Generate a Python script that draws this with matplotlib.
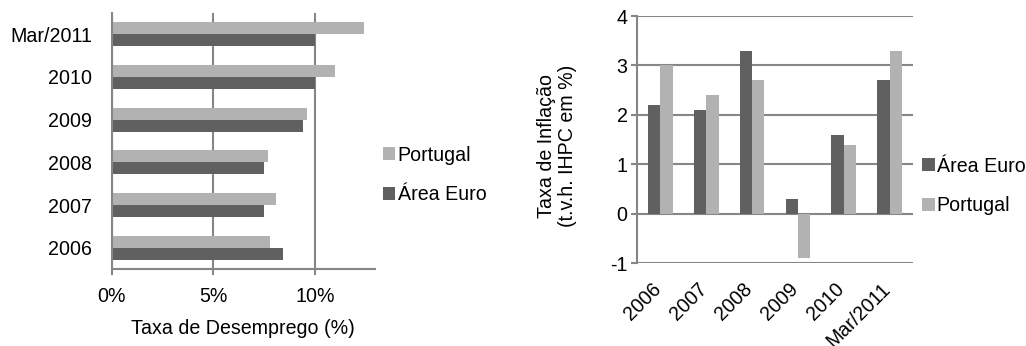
import numpy as np
from matplotlib import pyplot as plt

plt.rcParams["font.family"] = ["Liberation Sans", "DejaVu Sans"]
plt.rcParams["axes.unicode_minus"] = False

categories = ["2006", "2007", "2008", "2009", "2010", "Mar/2011"]

# Taxa de desemprego (%)
desemprego_portugal = [7.8, 8.1, 7.7, 9.6, 11.0, 12.4]
desemprego_euro = [8.4, 7.5, 7.5, 9.4, 10.0, 10.0]

# Taxa de inflação (t.v.h. IHPC em %)
inflacao_euro = [2.2, 2.1, 3.3, 0.3, 1.6, 2.7]
inflacao_portugal = [3.0, 2.4, 2.7, -0.9, 1.4, 3.3]

COR_PT = "#b2b2b2"
COR_EURO = "#606060"
COR_EIXO = "#868686"
FS = 14.1


def grafico_desemprego(fig):
    ax = fig.add_axes([0.1089, 0.2225, 0.2566, 0.740])
    y = np.arange(len(categories))
    h = 0.28
    b_pt = ax.barh(y + h / 2, desemprego_portugal, height=h, color=COR_PT, label="Portugal")
    b_eu = ax.barh(y - h / 2, desemprego_euro, height=h, color=COR_EURO, label="Área Euro")
    ax.set_ylim(-0.5, len(categories) - 0.5)
    ax.set_xlim(0, 12.95)
    ax.set_yticks(y)
    ax.set_yticklabels(categories)
    ax.set_xticks([0, 5, 10])
    ax.set_xticklabels(["0%", "5%", "10%"])
    ax.set_xlabel("Taxa de Desemprego (%)", fontsize=FS, labelpad=9)
    ax.xaxis.grid(True, color=COR_EIXO, linewidth=1.5)
    ax.set_axisbelow(True)
    for s in ["top", "right"]:
        ax.spines[s].set_visible(False)
    for s in ["left", "bottom"]:
        ax.spines[s].set_color(COR_EIXO)
        ax.spines[s].set_linewidth(1.5)
    ax.tick_params(axis="y", length=0, pad=14, labelsize=FS)
    ax.tick_params(axis="x", length=4, width=1.5, color=COR_EIXO, pad=9, labelsize=FS)
    fig.legend([b_pt, b_eu], ["Portugal", "Área Euro"], loc="center left",
               bbox_to_anchor=(0.373, 0.494), frameon=False, fontsize=FS,
               handlelength=0.65, handleheight=0.65, handletextpad=0.12,
               labelspacing=1.05, borderaxespad=0, borderpad=0)


def grafico_inflacao(fig):
    ax = fig.add_axes([0.6212, 0.239, 0.2684, 0.7147])
    x = np.arange(len(categories))
    w = 0.27
    b_eu = ax.bar(x - w / 2, inflacao_euro, width=w, color=COR_EURO, label="Área Euro")
    b_pt = ax.bar(x + w / 2, inflacao_portugal, width=w, color=COR_PT, label="Portugal")
    ax.set_xlim(-0.5, len(categories) - 0.5)
    ax.set_ylim(-1, 4)
    ax.set_yticks(range(-1, 5))
    ax.yaxis.grid(True, color=COR_EIXO, linewidth=1.5)
    ax.set_axisbelow(True)
    for s in ["top", "right", "bottom"]:
        ax.spines[s].set_visible(False)
    ax.spines["left"].set_color(COR_EIXO)
    ax.spines["left"].set_linewidth(1.5)
    ax.tick_params(axis="y", length=4, width=1.5, color=COR_EIXO, pad=3, labelsize=FS)
    # ticks invisíveis, ligeiramente à esquerda do centro para alinhar o texto inclinado
    ax.set_xticks(x - 0.2)
    ax.set_xticklabels(categories, rotation=45, ha="right", va="top",
                       rotation_mode="anchor", fontsize=FS)
    ax.tick_params(axis="x", length=0, pad=11.5)
    ax.set_ylabel("Taxa de Inflação\n(t.v.h. IHPC em %)", fontsize=FS, linespacing=1.15)
    ax.yaxis.set_label_coords(-0.218, 0.474)
    fig.legend([b_eu, b_pt], ["Área Euro", "Portugal"], loc="center left",
               bbox_to_anchor=(0.8985, 0.4624), frameon=False, fontsize=FS,
               handlelength=0.65, handleheight=0.65, handletextpad=0.1,
               labelspacing=1.05, borderaxespad=0, borderpad=0)


fig = plt.figure(figsize=(10.26, 3.46), dpi=100)
fig.patch.set_facecolor("white")
grafico_desemprego(fig)
grafico_inflacao(fig)
fig.savefig("out.png", dpi=100)
plt.close(fig)
